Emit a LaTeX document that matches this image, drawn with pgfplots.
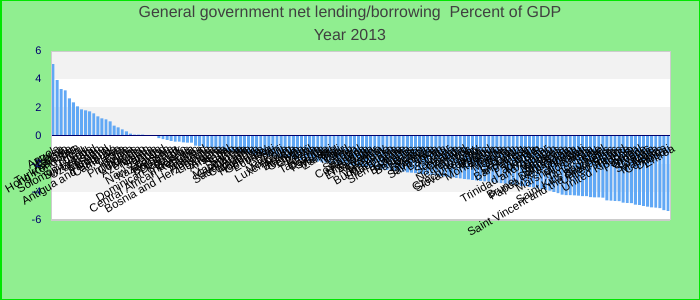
\documentclass[border=0pt]{standalone}
\usepackage{fontspec}
\setmainfont{Liberation Sans}
\usepackage{pgfplots}
\pgfplotsset{compat=1.18}
\usepackage{pgfplotstable}
\definecolor{bgreen}{RGB}{144,238,144}
\definecolor{edgegreen}{RGB}{0,230,0}
\definecolor{band}{RGB}{242,242,242}
\definecolor{barblue}{RGB}{97,168,245}
\definecolor{navyblue}{RGB}{0,0,110}
\definecolor{titlegray}{RGB}{64,64,64}
\definecolor{framegray}{RGB}{204,204,204}

\pgfplotstableread{
x y
0 5.07
1 3.93
2 3.29
3 3.21
4 2.64
5 2.36
6 2.07
7 1.86
8 1.79
9 1.71
10 1.57
11 1.36
12 1.21
13 1.14
14 1.00
15 0.71
16 0.57
17 0.43
18 0.29
19 0.14
20 0.07
21 0.07
22 0.07
23 0.01
24 0.00
25 -0.02
26 -0.19
27 -0.26
28 -0.31
29 -0.38
30 -0.43
31 -0.43
32 -0.48
33 -0.50
34 -0.50
35 -0.71
36 -0.74
37 -0.81
38 -0.86
39 -0.86
40 -1.00
41 -1.05
42 -1.08
43 -1.12
44 -1.15
45 -1.19
46 -1.22
47 -1.25
48 -1.29
49 -1.32
50 -1.35
51 -1.39
52 -1.42
53 -1.46
54 -1.49
55 -1.52
56 -1.56
57 -1.59
58 -1.63
59 -1.66
60 -1.69
61 -1.73
62 -1.76
63 -1.80
64 -1.83
65 -1.86
66 -1.90
67 -1.93
68 -1.96
69 -2.00
70 -2.03
71 -2.07
72 -2.10
73 -2.13
74 -2.17
75 -2.20
76 -2.24
77 -2.27
78 -2.30
79 -2.34
80 -2.37
81 -2.40
82 -2.44
83 -2.47
84 -2.51
85 -2.54
86 -2.57
87 -2.61
88 -2.64
89 -2.68
90 -2.71
91 -2.74
92 -2.78
93 -2.81
94 -2.84
95 -2.88
96 -2.91
97 -2.95
98 -2.98
99 -3.01
100 -3.05
101 -3.08
102 -3.12
103 -3.15
104 -3.18
105 -3.22
106 -3.25
107 -3.28
108 -3.32
109 -3.35
110 -3.39
111 -3.42
112 -3.45
113 -3.48
114 -3.52
115 -3.57
116 -3.60
117 -3.65
118 -3.69
119 -3.75
120 -3.80
121 -3.86
122 -3.92
123 -4.00
124 -4.10
125 -4.20
126 -4.24
127 -4.24
128 -4.25
129 -4.27
130 -4.30
131 -4.31
132 -4.38
133 -4.40
134 -4.40
135 -4.42
136 -4.60
137 -4.62
138 -4.64
139 -4.66
140 -4.76
141 -4.78
142 -4.80
143 -4.90
144 -4.93
145 -5.00
146 -5.05
147 -5.10
148 -5.12
149 -5.15
150 -5.30
151 -5.36
}\data

\begin{document}
\begin{tikzpicture}
\useasboundingbox (0bp,0bp) rectangle (700bp,300bp);
\fill[bgreen] (0bp,0bp) rectangle (700bp,300bp);
\draw[edgegreen, line width=1.5bp] (0.75bp,0.75bp) rectangle (699.25bp,299.25bp);
\node[text=titlegray, font=\fontsize{16}{19}\selectfont, anchor=base, inner sep=0pt] at (350bp,282bp) {General government net lending/borrowing\ \ Percent of GDP};
\node[text=titlegray, font=\fontsize{16}{19}\selectfont, anchor=base, inner sep=0pt] at (350bp,259bp) {Year 2013};
\begin{axis}[
  at={(51bp,80bp)}, anchor=south west, scale only axis,
  width=619bp, height=169bp,
  xmin=-0.5, xmax=151.5, ymin=-6, ymax=6,
  ytick={-6,-4,...,6},
  xtick={0,...,151},
  xticklabels={Angola,Korea,Kosovo,Estonia,Turkmenistan,Hong Kong SAR,Peru,Tuvalu,Solomon Islands,Switzerland,Uzbekistan,Lesotho,Iceland,Paraguay,Antigua and Barbuda,Cameroon,Latvia,Chile,Bolivia,Philippines,Colombia,Mexico,Azerbaijan,Nigeria,Samoa,Tonga,New Zealand,Kazakhstan,Romania,Botswana,Denmark,Dominican Republic,Belarus,Indonesia,Central African Republic,Guinea,Thailand,Australia,Bosnia and Herzegovina,Lithuania,Algeria,Armenia,Nepal,Sudan,Serbia,Macedonia,Guatemala,Saudi Arabia,Cambodia,Moldova,Honduras,Germany,Ecuador,Haiti,Gabon,Fiji,Mongolia,Luxembourg,Austria,Belgium,Georgia,Ghana,Brazil,Kenya,Tanzania,Uganda,Rwanda,Malawi,Zambia,Mali,Niger,Chad,Benin,Togo,Senegal,Costa Rica,Panama,Nicaragua,El Salvador,Argentina,Uruguay,Venezuela,Burkina Faso,Mauritania,Liberia,Sierra Leone,Gambia,Barbados,Bahamas,Belize,Jamaica,Grenada,Dominica,Saint Lucia,Bahrain,Oman,Qatar,Guyana,Suriname,Canada,Finland,Netherlands,Italy,Hungary,Czech Republic,Slovak Republic,Poland,Croatia,Montenegro,Albania,Tunisia,Morocco,Jordan,Lebanon,Sri Lanka,Bangladesh,Pakistan,India,Vietnam,Lao P.D.R.,Myanmar,Trinidad and Tobago,Bhutan,Maldives,Malaysia,Singapore,Brunei Darussalam,Papua New Guinea,Vanuatu,Kiribati,Marshall Islands,Micronesia,Palau,Timor-Leste,Israel,Saint Kitts and Nevis,Seychelles,Saint Vincent and the Grenadines,United States,Ireland,France,United Kingdom,Spain,Portugal,Greece,Cyprus,Slovenia,Malta,Mauritius,Comoros,Djibouti,Eritrea},
  axis x line*=middle, axis y line*=left,
  hide obscured x ticks=false, hide obscured y ticks=false,
  x axis line style={navyblue, line width=1.8bp},
  y axis line style={framegray, line width=1bp},
  major tick length=0pt,
  xticklabel style={font=\fontsize{11.5}{13}\selectfont, text=black, rotate=30, anchor=north east, inner sep=1bp, yshift=-8bp},
  yticklabel style={font=\fontsize{11}{13}\selectfont, text=navyblue, anchor=east, xshift=-6bp},
  /pgf/number format/assume math mode=true,
  axis on top=true,
  clip=false,
  ybar, bar width=2.9bp,
]
\fill[band] (axis cs:-0.5,4) rectangle (axis cs:151.5,6);
\fill[band] (axis cs:-0.5,0) rectangle (axis cs:151.5,2);
\fill[band] (axis cs:-0.5,-4) rectangle (axis cs:151.5,-2);
\fill[white] (axis cs:-0.5,2) rectangle (axis cs:151.5,4);
\fill[white] (axis cs:-0.5,-2) rectangle (axis cs:151.5,0);
\fill[white] (axis cs:-0.5,-6) rectangle (axis cs:151.5,-4);
\addplot[fill=barblue, draw=none] table[x=x, y=y] {\data};
\draw[framegray, line width=1bp] (rel axis cs:0,0) -- (rel axis cs:1,0) -- (rel axis cs:1,1) -- (rel axis cs:0,1);
\draw[framegray, line width=1.5bp] (rel axis cs:0,0) -- (rel axis cs:1,0);
\end{axis}
\end{tikzpicture}
\end{document}
